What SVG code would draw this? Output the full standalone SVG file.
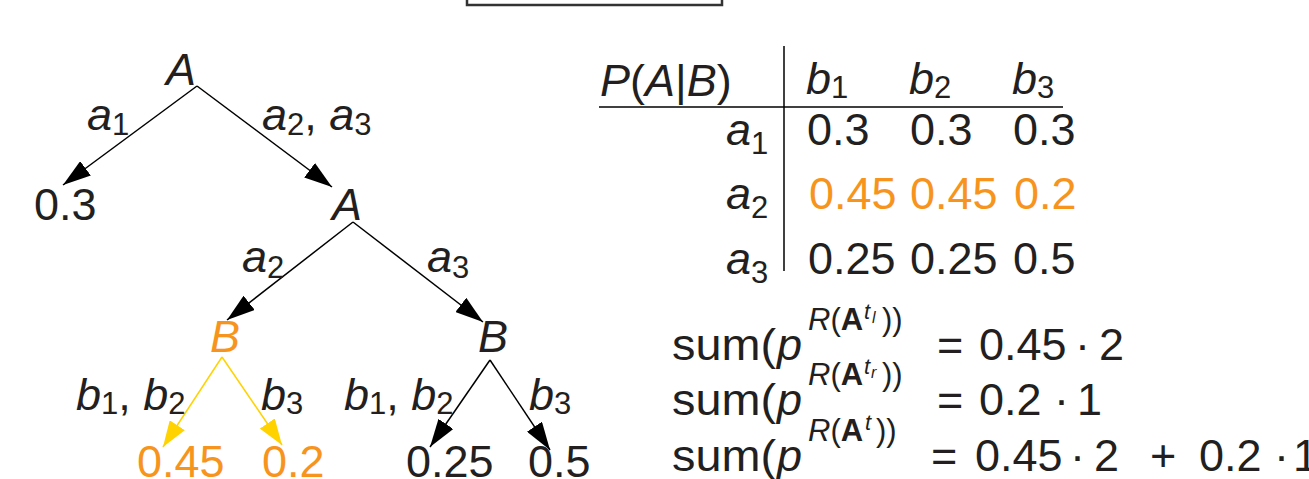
<svg xmlns="http://www.w3.org/2000/svg" width="1309" height="479" viewBox="0 0 1309 479">
<style>
text{font-family:"Liberation Sans",Arial,Helvetica,sans-serif;font-size:45px;fill:#231f20}
.i{font-style:italic}
.n{font-style:normal}
.o{fill:#f7941d}
.s{font-size:31px}
.ss{font-size:22px}
.sss{font-size:16px}
.b{font-weight:bold}
.e{stroke:#000;stroke-width:1.5;fill:none}
.y{stroke:#ffd200;stroke-width:1.5;fill:none}
</style>
<defs>
<marker id="ab" markerUnits="userSpaceOnUse" markerWidth="28" markerHeight="18" refX="28" refY="9" orient="auto"><path d="M0,0 L28,9 L0,18 z" fill="#000"/></marker>
<marker id="ay" markerUnits="userSpaceOnUse" markerWidth="26" markerHeight="18" refX="26" refY="9" orient="auto"><path d="M0,0 L26,9 L0,18 z" fill="#ffd200"/></marker>
</defs>
<rect x="467" y="-10" width="255" height="15" fill="none" stroke="#333" stroke-width="2.5"/>

<g id="connectors">
<line class="e" x1="197" y1="86" x2="63" y2="185" marker-end="url(#ab)"/>
<line class="e" x1="197" y1="86" x2="332" y2="187" marker-end="url(#ab)"/>
<line class="e" x1="353" y1="222" x2="227" y2="320" marker-end="url(#ab)"/>
<line class="e" x1="353" y1="222" x2="483" y2="322" marker-end="url(#ab)"/>
<line class="y" x1="222" y1="357" x2="163" y2="447" marker-end="url(#ay)"/>
<line class="y" x1="222" y1="357" x2="282" y2="445" marker-end="url(#ay)"/>
<line class="e" x1="490" y1="360" x2="430" y2="447" marker-end="url(#ab)"/>
<line class="e" x1="490" y1="360" x2="550" y2="450" marker-end="url(#ab)"/>
<text class="i" x="87" y="130">a<tspan class="s n" dy="5">1</tspan></text>
<text class="i" x="262" y="130">a<tspan class="s n" dy="5">2</tspan><tspan class="n" dy="-5">, </tspan>a<tspan class="s n" dy="5">3</tspan></text>
<text class="i" x="242" y="272">a<tspan class="s n" dy="6">2</tspan></text>
<text class="i" x="427" y="272">a<tspan class="s n" dy="6">3</tspan></text>
<text class="i" x="76" y="410">b<tspan class="s n" dy="4">1</tspan><tspan class="n" dy="-4">, </tspan>b<tspan class="s n" dy="4">2</tspan></text>
<text class="i" x="261" y="410">b<tspan class="s n" dy="4">3</tspan></text>
<text class="i" x="344" y="410">b<tspan class="s n" dy="4">1</tspan><tspan class="n" dy="-4">, </tspan>b<tspan class="s n" dy="4">2</tspan></text>
<text class="i" x="529" y="410">b<tspan class="s n" dy="4">3</tspan></text>
</g>

<g id="root"><text class="i" x="166" y="85">A</text></g>
<g id="leaf-a1"><text x="34" y="220">0.3</text></g>
<g id="node-A2"><text class="i" x="332" y="220">A</text></g>
<g id="node-B-left"><text class="i o" x="210" y="352">B</text></g>
<g id="node-B-right"><text class="i" x="478" y="352">B</text></g>
<g id="leaf-045"><text class="o" x="137" y="477">0.45</text></g>
<g id="leaf-02"><text class="o" x="262" y="477">0.2</text></g>
<g id="leaf-025"><text x="406" y="477">0.25</text></g>
<g id="leaf-05"><text x="528" y="477">0.5</text></g>

<g id="table">
<line x1="784" y1="46" x2="784" y2="271" stroke="#000" stroke-width="1.5"/>
<line x1="599" y1="107" x2="1063" y2="107" stroke="#000" stroke-width="1.5"/>
<text x="600" y="96"><tspan class="i">P</tspan>(<tspan class="i">A</tspan>|<tspan class="i">B</tspan>)</text>
<text class="i" x="806" y="94">b<tspan class="s n" dy="4">1</tspan></text>
<text class="i" x="909" y="94">b<tspan class="s n" dy="4">2</tspan></text>
<text class="i" x="1012" y="94">b<tspan class="s n" dy="4">3</tspan></text>
<text class="i" x="726" y="145">a<tspan class="s n" dy="9">1</tspan></text>
<text class="i" x="726" y="209">a<tspan class="s n" dy="9">2</tspan></text>
<text class="i" x="726" y="274">a<tspan class="s n" dy="9">3</tspan></text>
<text x="807" y="145">0.3</text><text x="910" y="145">0.3</text><text x="1013" y="145">0.3</text>
<text class="o" x="809" y="209">0.45</text><text class="o" x="910" y="209">0.45</text><text class="o" x="1014" y="209">0.2</text>
<text x="808" y="274">0.25</text><text x="910" y="274">0.25</text><text x="1013" y="274">0.5</text>
</g>

<g id="equations">
<text x="672" y="360" textLength="104" lengthAdjust="spacingAndGlyphs">sum(</text><text class="i" x="777" y="360">p</text>
<text class="s" x="808" y="330"><tspan class="i">R</tspan>(<tspan class="b">A</tspan></text>
<text class="ss i" x="864" y="319">t</text><text class="sss i" x="872" y="323">l</text>
<text class="s" x="882" y="330">))</text>
<text x="937" y="360">=</text><text x="979" y="360">0.45</text><text x="1075" y="360">·</text><text x="1099" y="360">2</text>

<text x="672" y="415" textLength="104" lengthAdjust="spacingAndGlyphs">sum(</text><text class="i" x="777" y="415">p</text>
<text class="s" x="808" y="385"><tspan class="i">R</tspan>(<tspan class="b">A</tspan></text>
<text class="ss i" x="864" y="374">t</text><text class="sss i" x="871" y="378">r</text>
<text class="s" x="882" y="385">))</text>
<text x="937" y="415">=</text><text x="979" y="415">0.2</text><text x="1054" y="415">·</text><text x="1077" y="415">1</text>

<text x="672" y="471" textLength="104" lengthAdjust="spacingAndGlyphs">sum(</text><text class="i" x="777" y="471">p</text>
<text class="s" x="808" y="441"><tspan class="i">R</tspan>(<tspan class="b">A</tspan></text>
<text class="ss i" x="865" y="430">t</text>
<text class="s" x="876" y="441">))</text>
<text x="931" y="471">=</text><text x="975" y="471">0.45</text><text x="1070" y="471">·</text><text x="1094" y="471">2</text>
<text x="1150" y="471">+</text><text x="1199" y="471">0.2</text><text x="1274" y="471">·</text><text x="1293" y="471">1</text>
</g>
</svg>
